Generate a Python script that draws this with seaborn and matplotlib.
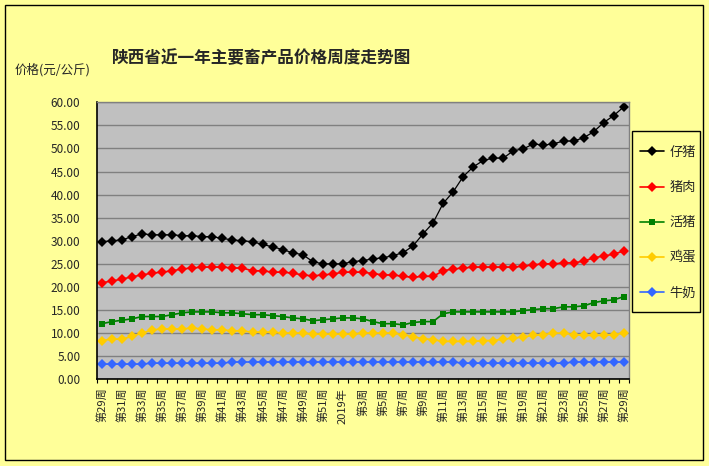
import seaborn as sns
import matplotlib.pyplot as plt
import pandas as pd
import numpy as np
from matplotlib.lines import Line2D
from matplotlib.patches import Rectangle

sns.set_theme(style='white')
plt.rcParams['font.family'] = ['Noto Sans CJK SC', 'DejaVu Sans']
plt.rcParams['axes.unicode_minus'] = False

# weeks: 2018 wk29-52, 2019 wk1-29
weeks_2018 = list(range(29, 53))
weeks_2019 = list(range(1, 30))
week_labels = ['第%d周' % w for w in weeks_2018] + \
              ['2019年' if w == 1 else '第%d周' % w for w in weeks_2019]

piglet = [29.8, 30.0, 30.2, 30.9, 31.5, 31.3, 31.3, 31.3, 31.1, 31.1,
          30.9, 30.9, 30.5, 30.2, 30.0, 29.8, 29.2, 28.7, 28.1, 27.4,
          27.0, 25.5, 25.0, 25.0, 25.0, 25.5,
          25.7, 26.1, 26.3, 26.8, 27.4, 28.9, 31.5, 33.9, 38.1, 40.6,
          43.9, 46.0, 47.4, 47.9, 47.9, 49.5, 49.9, 51.0, 50.7, 51.0,
          51.6, 51.6, 52.3, 53.6, 55.6, 57.1, 59.0]
pork = [20.9, 21.3, 21.7, 22.2, 22.6, 23.0, 23.2, 23.5, 23.9, 24.1,
        24.3, 24.3, 24.3, 24.1, 24.1, 23.5, 23.5, 23.2, 23.2, 23.0,
        22.6, 22.4, 22.6, 22.8, 23.2, 23.2,
        23.2, 22.9, 22.6, 22.6, 22.3, 22.1, 22.3, 22.3, 23.5, 23.9,
        24.1, 24.3, 24.3, 24.3, 24.3, 24.3, 24.5, 24.8, 25.0, 25.0,
        25.2, 25.2, 25.6, 26.3, 26.7, 27.1, 27.8]
live_pig = [12.05, 12.5, 12.8, 13.1, 13.6, 13.6, 13.6, 14.0, 14.4, 14.6,
            14.6, 14.6, 14.4, 14.4, 14.2, 14.0, 14.0, 13.8, 13.6, 13.3,
            13.1, 12.7, 12.9, 13.1, 13.3, 13.3,
            13.1, 12.5, 12.05, 12.05, 11.8, 12.3, 12.5, 12.5, 14.2, 14.6,
            14.6, 14.6, 14.6, 14.6, 14.6, 14.6, 14.9, 15.1, 15.3, 15.3,
            15.7, 15.7, 15.9, 16.6, 17.0, 17.2, 17.9]
egg = [8.4, 8.7, 8.7, 9.3, 10.0, 10.7, 10.9, 10.9, 10.9, 11.1,
       10.9, 10.7, 10.7, 10.5, 10.5, 10.2, 10.2, 10.2, 10.0, 10.0,
       10.0, 9.8, 9.8, 9.8, 9.8, 9.8,
       10.0, 10.0, 10.0, 10.0, 9.7, 9.2, 8.8, 8.6, 8.2, 8.2,
       8.2, 8.2, 8.4, 8.4, 8.7, 8.9, 9.2, 9.5, 9.7, 10.0,
       10.0, 9.7, 9.5, 9.5, 9.5, 9.7, 10.0]
milk = [3.3, 3.3, 3.3, 3.3, 3.3, 3.5, 3.5, 3.5, 3.5, 3.5,
        3.5, 3.5, 3.5, 3.75, 3.75, 3.75, 3.75, 3.75, 3.75, 3.75,
        3.75, 3.75, 3.75, 3.75, 3.75, 3.75,
        3.75, 3.75, 3.75, 3.75, 3.75, 3.75, 3.75, 3.75, 3.75, 3.75,
        3.5, 3.5, 3.5, 3.5, 3.5, 3.5, 3.5, 3.5, 3.5, 3.5,
        3.5, 3.75, 3.75, 3.75, 3.75, 3.75, 3.75]

series_names = ['仔猪', '猪肉', '活猪', '鸡蛋', '牛奶']
series_values = [piglet, pork, live_pig, egg, milk]
colors = {'仔猪': '#000000', '猪肉': '#FF0000', '活猪': '#008000',
          '鸡蛋': '#FFCC00', '牛奶': '#3366FF'}
markers = {'仔猪': 'D', '猪肉': 'D', '活猪': 's', '鸡蛋': 'D', '牛奶': 'D'}

idx = np.arange(len(week_labels))
df = pd.DataFrame({'idx': np.tile(idx, len(series_names)),
                   'price': np.concatenate(series_values),
                   'item': np.repeat(series_names, len(idx))})

bg = '#FFFF99'
fig = plt.figure(figsize=(7.09, 4.66), dpi=100, facecolor=bg)
ax = fig.add_axes([0.1368, 0.186, 0.750, 0.5946])
ax.set_facecolor('#C0C0C0')

for name in series_names:
    sub = df[df['item'] == name]
    ms = 5 if markers[name] == 's' else 4.8
    sns.lineplot(data=sub, x='idx', y='price', ax=ax, color=colors[name],
                 marker=markers[name], markersize=ms, markeredgewidth=0,
                 linewidth=1.2 if name != '仔猪' else 0.9, legend=False)

ax.set_xlim(-0.5, len(idx) - 0.5)
ax.set_ylim(0, 60)
ax.set_yticks(np.arange(0, 61, 5))
ax.set_yticklabels(['%.2f' % v for v in np.arange(0, 61, 5)], fontsize=8.5)
ax.yaxis.grid(True, color='#808080', linewidth=1)
ax.xaxis.grid(False)
ax.set_axisbelow(True)

ax.set_xticks(idx[::2])
ax.set_xticklabels(week_labels[::2], rotation=90, fontsize=8)
ax.set_xticks(np.arange(-0.5, len(idx), 1), minor=True)
ax.tick_params(axis='x', which='major', length=0, pad=6)
ax.tick_params(axis='x', which='minor', length=3, width=0.8, color='black',
               direction='out', bottom=True)
ax.tick_params(axis='y', length=0, pad=12)
ax.set_xlabel('')
ax.set_ylabel('')

for s in ['left', 'bottom']:
    ax.spines[s].set_color('black')
    ax.spines[s].set_linewidth(1.2)
for s in ['top', 'right']:
    ax.spines[s].set_color('#808080')
    ax.spines[s].set_linewidth(1)

fig.text(0.369, 1 - 58 / 466, '陕西省近一年主要畜产品价格周度走势图',
         ha='center', va='center', fontsize=12, fontweight='bold')
fig.text(15 / 709, 1 - 70 / 466, '价格(元/公斤)', ha='left', va='center',
         fontsize=9)

handles = [Line2D([0], [0], color=colors[n], marker=markers[n],
                  markersize=5 if markers[n] == 's' else 4.8,
                  markeredgewidth=0, linewidth=1.2)
           for n in series_names]
leg = fig.legend(handles, series_names, loc='upper left',
                 bbox_to_anchor=(640 / 709, 1 - 146 / 466), fontsize=9.5,
                 frameon=False, labelspacing=1.68, handlelength=1.8,
                 borderpad=0, handletextpad=0.45, borderaxespad=0)

# legend frame
fig.patches.append(Rectangle((632 / 709, 1 - 312 / 466), 68 / 709, 181 / 466,
                             transform=fig.transFigure, fill=False,
                             edgecolor='black', linewidth=1))
# outer border
fig.patches.append(Rectangle((5 / 709, 6 / 466), 698 / 709, 455 / 466,
                             transform=fig.transFigure, fill=False,
                             edgecolor='black', linewidth=1))

plt.savefig('out.png', dpi=100, facecolor=bg)
